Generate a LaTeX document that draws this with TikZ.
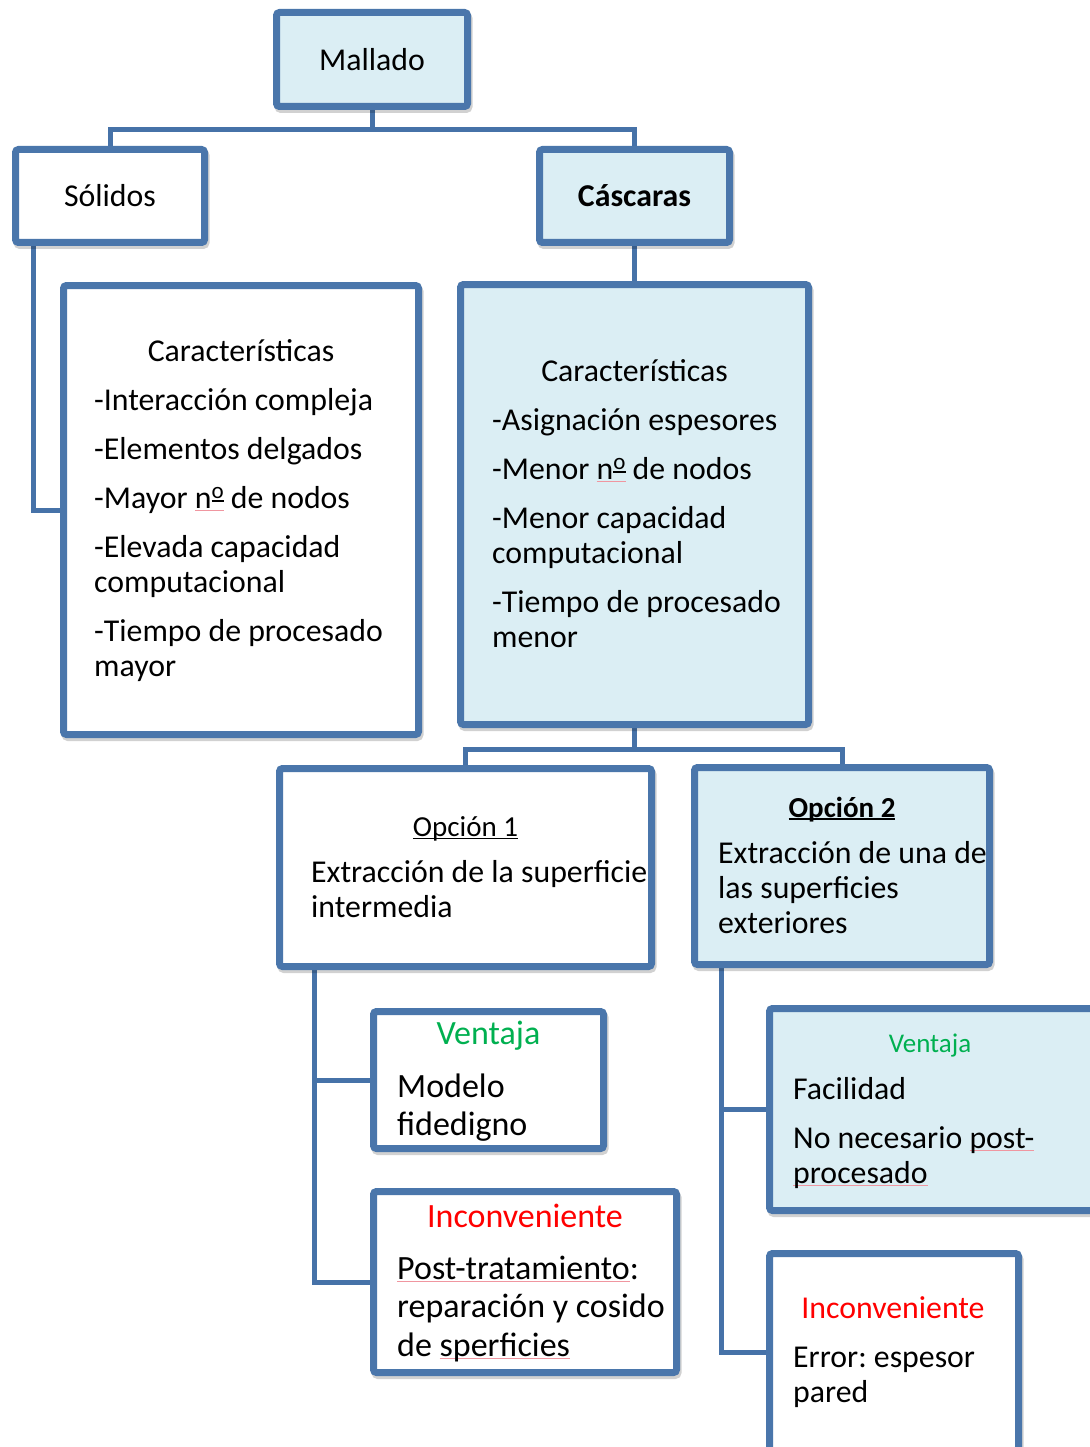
\documentclass[tikz,border=0pt]{standalone}
\usepackage{fontspec}
\setmainfont{Carlito}
\usetikzlibrary{backgrounds,shadows}
\frenchspacing
\definecolor{bordc}{RGB}{74,118,171}
\definecolor{connc}{RGB}{70,114,168}
\definecolor{fillc}{RGB}{219,238,244}
\definecolor{okgreen}{RGB}{0,176,80}
\definecolor{badred}{RGB}{255,0,0}
\definecolor{spellc}{RGB}{240,150,160}
\newsavebox\smbox
\newsavebox\ordbox
\newcommand\spellmark[1]{\sbox\smbox{#1}\rlap{\textcolor{spellc}{\rule[-0.09em]{\wd\smbox}{1.3pt}}}\usebox\smbox}
\newcommand\ulmark[2]{\sbox\smbox{#2}\rlap{\rule[-0.12em]{\wd\smbox}{#1}}\usebox\smbox}
\newcommand\ordm{\sbox\ordbox{\fontsize{23}{23}\selectfont o}\rlap{\raisebox{0.2em}{\rule{\wd\ordbox}{1.6pt}}}\raisebox{0.29em}{\usebox\ordbox}}
\newcommand\fmain{\fontsize{31.8}{35}\selectfont}
\newcommand\fbig{\fontsize{34}{38.5}\selectfont}
\newcommand\fsmall{\fontsize{27}{32}\selectfont}
\newcommand\fopt{\fontsize{29}{35}\selectfont}
\tikzset{
  box/.style={draw=bordc, line width=7pt, rounded corners=3pt, inner sep=0pt,
    drop shadow={shadow xshift=1.5pt, shadow yshift=-3pt, opacity=.18, fill=black, draw=black}},
  whitebox/.style={box, fill=white},
  bluebox/.style={box, fill=fillc},
  conn/.style={draw=connc, line width=5pt},
  ttl/.style={anchor=base, inner sep=0pt},
  body/.style={anchor=north west, inner sep=0pt, align=left},
}
\begin{document}
\begin{tikzpicture}[x=1pt, y=-1pt]
\useasboundingbox (0,0) rectangle (1089,1447);

% boxes
\node[bluebox, minimum width=191, minimum height=94, font=\fmain] (mal) at (372,59.5) {Mallado};
\node[whitebox, minimum width=189, minimum height=93, font=\fmain] (sol) at (110,196) {Sólidos};
\node[bluebox, minimum width=190, minimum height=93, font=\fmain\bfseries] (cas) at (634.5,196) {Cáscaras};
\node[whitebox, minimum width=355, minimum height=449] (lc) at (241,510) {};
\node[bluebox, minimum width=348, minimum height=440] (rc) at (634.5,504.5) {};
\node[whitebox, minimum width=372, minimum height=198] (op1) at (465.5,867.5) {};
\node[bluebox, minimum width=295, minimum height=197] (op2) at (842,866) {};
\node[whitebox, minimum width=230, minimum height=137] (v1) at (488.5,1080) {};
\node[whitebox, minimum width=303, minimum height=181] (i1) at (525,1282) {};
\node[bluebox, minimum width=337, minimum height=202] (v2) at (938,1109.5) {};
\node[whitebox, minimum width=249, minimum height=197] (i2) at (894,1352) {};

% connectors
\begin{scope}[on background layer]
\draw[conn] (mal.south) -- ++(0,19.5) coordinate (j1);
\draw[conn] (sol.north) |- (j1) -| (cas.north);
\draw[conn] (sol.south west) ++(21,0) coordinate (b0) |- (lc.west);
\draw[conn] (cas.south) -- (rc.north);
\draw[conn] (rc.south) -- ++(0,21.5) coordinate (j2);
\draw[conn] (op1.north) |- (j2) -| (op2.north);
\draw[conn] (op1.south west) ++(38,0) coordinate (b1) |- (v1.west);
\draw[conn] (b1) |- (i1.west);
\draw[conn] (op2.south west) ++(30.5,0) coordinate (b2) |- (v2.west);
\draw[conn] (b2) |- (i2.west);
\end{scope}

% texts
\node[ttl, font=\fmain] (lct) at (241,361) {Características};
\node[body, font=\fmain] (lcb) at (94,385.5) {\strut-Interacción compleja\\[14pt]-Elementos delgados\\[14pt]-Mayor \spellmark{n\ordm} de nodos\\[14pt]-Elevada capacidad\\computacional\\[14pt]-Tiempo de procesado\\mayor};

\node[ttl, font=\fmain] (rct) at (634.5,381) {Características};
\node[body, font=\fmain] (rcb) at (492,405.5) {\strut-Asignación espesores\\[14pt]-Menor \spellmark{n\ordm} de nodos\\[14pt]-Menor capacidad\\computacional\\[14pt]-Tiempo de procesado\\menor};

\node[ttl, font=\fopt] (o1t) at (465.5,836) {\ulmark{1.3pt}{Opción 1}};
\node[body, font=\fmain] (o1b) at (311,857.5) {\strut Extracción de la superficie\\intermedia};

\node[ttl, font=\fopt\bfseries] (o2t) at (842,817) {\ulmark{2pt}{Opción 2}};
\node[body, font=\fmain] (o2b) at (718,838.5) {\strut Extracción de una de\\las superficies\\exteriores};

\node[ttl, font=\fbig, text=okgreen] (v1t) at (488.5,1044) {Ventaja};
\node[body, font=\fbig] (v1b) at (397,1070) {\strut Modelo\\fidedigno};

\node[ttl, font=\fbig, text=badred] (i1t) at (525,1227) {Inconveniente};
\node[body, font=\fbig] (i1b) at (397,1252) {\strut\spellmark{Post-tratamiento}:\\reparación y cosido\\de \spellmark{sperficies}};

\node[ttl, font=\fsmall, text=okgreen] (v2t) at (930,1052) {Ventaja};
\node[body, font=\fmain] (v2b) at (793,1074.5) {\strut Facilidad\\[14pt]No necesario \spellmark{post-}\\\spellmark{procesado}};

\node[ttl, font=\fmain, text=badred] (i2t) at (893,1318) {Inconveniente};
\node[body, font=\fmain] (i2b) at (793,1342.5) {\strut Error: espesor\\pared};
\end{tikzpicture}
\end{document}
